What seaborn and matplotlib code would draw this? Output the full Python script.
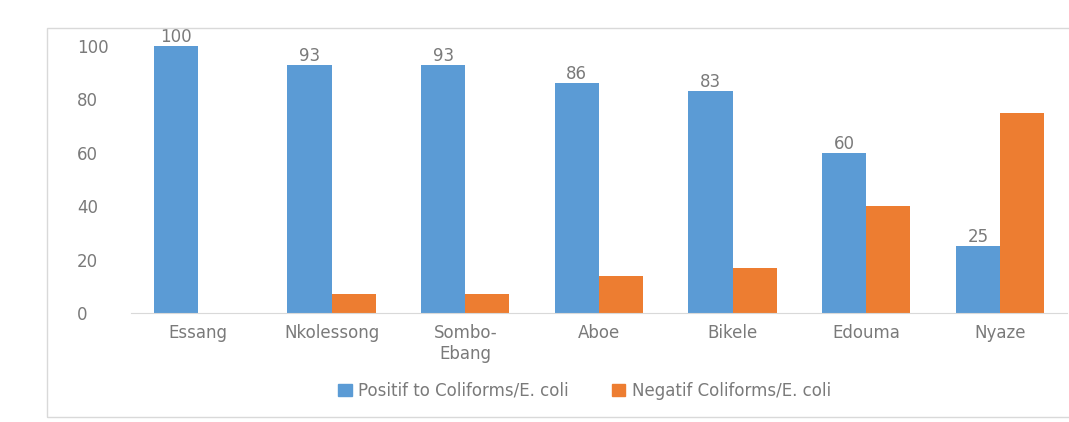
# Bar chart: coliform results per site

import pandas as pd
from matplotlib import pyplot as plt
from matplotlib.patches import Rectangle
import seaborn as sns

sns.set_style('white')
plt.rcParams['font.family'] = ['DejaVu Sans']

# Data
sites = ['Essang', 'Nkolessong', 'Sombo-\nEbang', 'Aboe', 'Bikele', 'Edouma', 'Nyaze']
positif = [100, 93, 93, 86, 83, 60, 25]
negatif = [0, 7, 7, 14, 17, 40, 75]
series = ['Positif to Coliforms/E. coli', 'Negatif Coliforms/E. coli']
colors = ['#5B9BD5', '#ED7D31']
grey = '#7A7A7A'
fs = 12

df = pd.DataFrame({
    'site': sites * 2,
    'value': positif + negatif,
    'series': [series[0]] * len(sites) + [series[1]] * len(sites),
})

# Plot
fig = plt.figure(figsize=(10.69, 4.22), dpi=100)
ax = fig.add_axes([0.1225, 0.2583, 0.8755, 0.6327])

sns.barplot(data=df, x='site', y='value', hue='series', palette=colors,
            width=0.66, saturation=1, linewidth=0, ax=ax, legend=True)

ax.set_xlim(-0.5, 6.5)
ax.set_ylim(0, 100)
ax.set_yticks(range(0, 101, 20))
ax.set_xlabel('')
ax.set_ylabel('')
for s in ['top', 'right', 'left']:
    ax.spines[s].set_visible(False)
ax.spines['bottom'].set_color('#D9D9D9')
ax.tick_params(axis='both', length=0, labelsize=fs, labelcolor=grey)
ax.tick_params(axis='y', pad=39)
for lab in ax.get_yticklabels():
    lab.set_horizontalalignment('left')
ax.tick_params(axis='x', pad=8)

# value labels on the blue bars
ax.bar_label(ax.containers[0], fontsize=fs, color=grey, padding=0, clip_on=False)

# Legend
ax.get_legend().remove()
handles = [Rectangle((0, 0), 1, 1, color=c) for c in colors]
fig.legend(handles, series, loc='center', bbox_to_anchor=(0.547, 0.074), ncol=2,
           frameon=False, fontsize=fs, labelcolor=grey, handlelength=0.8,
           handleheight=0.8, handletextpad=0.4, columnspacing=2.6)

# chart frame
fig.patches.append(Rectangle((47 / 1069, 1 - 417 / 422), 1.1, 389 / 422,
                             transform=fig.transFigure, fill=False,
                             edgecolor='#D9D9D9', linewidth=1))

plt.savefig('out.png', dpi=100)
